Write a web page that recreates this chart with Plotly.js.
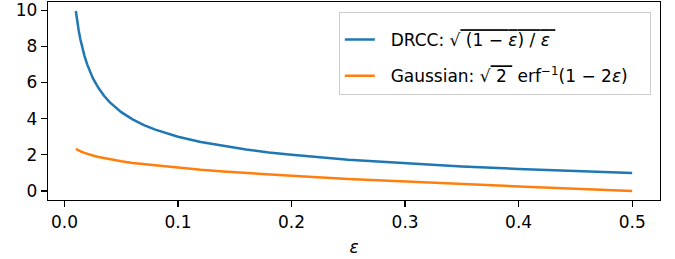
<!DOCTYPE html>
<html>
<head>
<meta charset="utf-8">
<script src="https://cdn.plot.ly/plotly-3.0.1.min.js"></script>
<style>html,body{margin:0;padding:0;background:#fff;}</style>
</head>
<body>
<div id="chart" style="width:675px;height:259px;"></div>
<script>
const eps = [0.01, 0.011, 0.0125, 0.014, 0.015, 0.0175, 0.02, 0.0225, 0.025, 0.03, 0.035, 0.04, 0.045, 0.05, 0.06, 0.07, 0.08, 0.09, 0.1, 0.12, 0.14, 0.16, 0.18, 0.2, 0.25, 0.3, 0.35, 0.4, 0.45, 0.5];
const drcc = [9.95, 9.48, 8.89, 8.39, 8.10, 7.50, 7.00, 6.59, 6.24, 5.69, 5.25, 4.90, 4.61, 4.36, 3.96, 3.64, 3.39, 3.18, 3.00, 2.71, 2.48, 2.29, 2.13, 2.00, 1.73, 1.53, 1.36, 1.22, 1.11, 1.00];
const gauss = [2.33, 2.29, 2.24, 2.20, 2.17, 2.11, 2.05, 2.00, 1.96, 1.88, 1.81, 1.75, 1.70, 1.64, 1.55, 1.48, 1.41, 1.34, 1.28, 1.17, 1.08, 0.99, 0.92, 0.84, 0.67, 0.52, 0.39, 0.25, 0.13, 0.00];
const xTicks = [0.0, 0.1, 0.2, 0.3, 0.4, 0.5];
const xTickText = ['0.0', '0.1', '0.2', '0.3', '0.4', '0.5'];
const yTicks = [0, 2, 4, 6, 8, 10];

const font = {family: 'DejaVu Sans', size: 17, color: '#000'};
const traces = [
  {x: eps, y: drcc, mode: 'lines', line: {color: '#1f77b4', width: 2.5}, legendgroup: 'a',
   name: "&nbsp;&nbsp;DRCC: √<span style='text-decoration:overline'> (1 − <i>ε</i>) / <i>ε</i> </span>"},
  {x: eps, y: gauss, mode: 'lines', line: {color: '#ff7f0e', width: 2.5}, legendgroup: 'b',
   name: "&nbsp;&nbsp;Gaussian: √<span style='text-decoration:overline'> 2 </span> erf<sup>−1</sup>(1 − 2<i>ε</i>)&nbsp;&nbsp;&nbsp;"}
];
const layout = {
  width: 675, height: 259,
  margin: {l: 48, r: 15, t: 2, b: 59},
  paper_bgcolor: '#fff', plot_bgcolor: '#fff',
  font: font,
  showlegend: true,
  legend: {x: 0.985, xanchor: 'right', y: 0.95, yanchor: 'top', bgcolor: 'rgba(255,255,255,0.8)',
    bordercolor: '#cccccc', borderwidth: 1, font: font, tracegroupgap: 11, traceorder: 'grouped',
    title: {text: ' ', font: {family: 'DejaVu Sans', size: 7}}},
  xaxis: {range: [-0.0145, 0.5245], tickvals: xTicks, ticktext: xTickText, ticks: 'outside', ticklen: 6,
    tickwidth: 1.2, tickcolor: '#000', showgrid: false, zeroline: false, showline: true, linecolor: '#000',
    linewidth: 1.2, mirror: true, tickfont: font,
    title: {text: '<i>ε</i>', font: font, standoff: 10}},
  yaxis: {range: [-0.4975, 10.4475], tickvals: yTicks, ticks: 'outside', ticklen: 6,
    tickwidth: 1.2, tickcolor: '#000', showgrid: false, zeroline: false, showline: true, linecolor: '#000',
    linewidth: 1.2, mirror: true, tickfont: font}
};
Plotly.newPlot('chart', traces, layout, {displayModeBar: false, staticPlot: true});
</script>
</body>
</html>
